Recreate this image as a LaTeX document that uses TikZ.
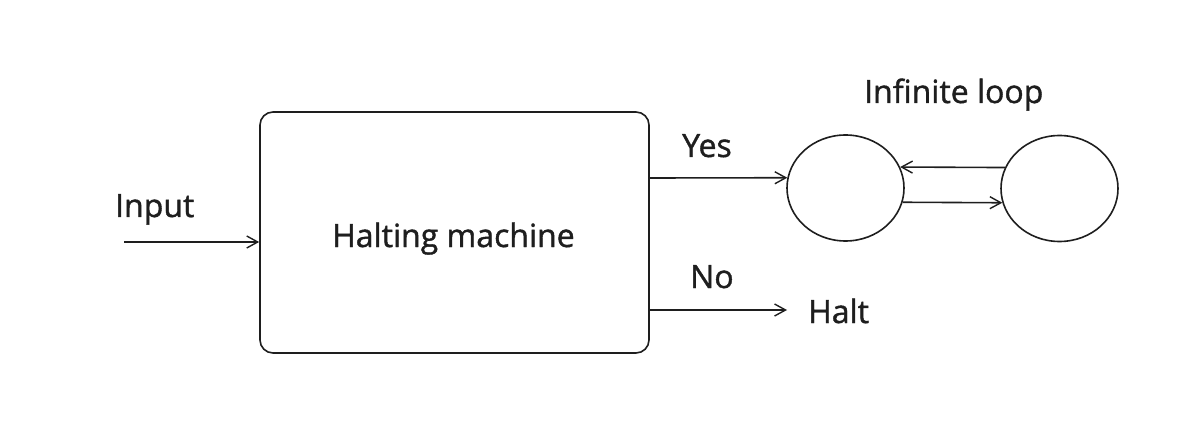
\documentclass[tikz,border=0pt]{standalone}
\usepackage{fontspec}
\setmainfont{Open Sans}[FakeBold=1.2]
\usetikzlibrary{shapes.geometric,arrows.meta}
\definecolor{ink}{HTML}{1E1E1E}
\begin{document}
\begin{tikzpicture}[x=1pt,y=1pt,
  line/.style={line width=1.6pt,draw=ink},
  arr/.style={line,-{Straight Barb[length=11pt,width=12pt,line width=1.4pt]}},
  lbl/.style={font=\fontsize{32}{38}\selectfont,text=ink,inner sep=0pt,anchor=base west},
  circ/.style={ellipse,line,minimum width=117pt,minimum height=106pt,inner sep=0pt}]
\useasboundingbox (0,0) rectangle (1197,429);
\node[line,rounded corners=13pt,minimum width=389pt,minimum height=241pt,inner sep=0pt] (box) at (454.5,196.5) {};
\node[lbl] (hm) at (332,182) {Halting machine};
\node[circ] (c1) at (845.5,241) {};
\node[circ] (c2) at (1059.5,240.5) {};
\coordinate (in) at (124,187);
\node[lbl] (input) at (115,212) {Input};
\node[lbl] (yes) at (682,272) {Yes};
\node[lbl] (no) at (690,141) {No};
\node[lbl] (loop) at (864,326) {Infinite loop};
\node[lbl] (halt) at (808,106) {Halt};
\coordinate (yesy) at (0,251);
\coordinate (haltend) at (787,119);
\draw[arr] (in) -- (box.west |- in);
\draw[arr] (box.east |- yesy) -- (c1.170);
\draw[arr] (box.east |- haltend) -- (haltend);
\draw[arr] (c2.159) -- (c1.21);
\draw[arr] (c1.-14) -- (c2.194);
\end{tikzpicture}
\end{document}
